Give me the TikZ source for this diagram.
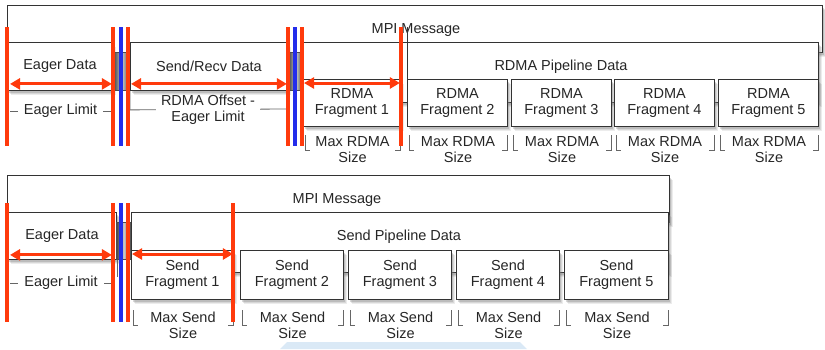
\documentclass[tikz,border=0pt]{standalone}
\usepackage{fontspec}
\setmainfont{Liberation Sans}
\usetikzlibrary{arrows.meta,shadows}
\definecolor{barred}{RGB}{255,58,12}
\definecolor{barblue}{RGB}{35,45,235}
\definecolor{wash}{RGB}{218,233,246}
% bracket under a fragment: left x, right x, top y, name, text
\newcommand{\sizebracket}[5]{%
  \draw[brk] (#1+2,#3) -- (#1+2,#3+15) -- (#1+7,#3+15);
  \draw[brk] (#2-5,#3+15) -- (#2,#3+15) -- (#2,#3);
  \node[lbl, align=center] (#4) at ({(#1+#2)/2+1},#3+15) {#5};}

\begin{document}
\begin{tikzpicture}[x=1pt, y=-1pt,
    font=\fontsize{14.5}{16}\selectfont,
    box/.style={draw=black!80, line width=0.9pt, fill=white, inner sep=0pt,
      anchor=north west, align=center, text=black!85,
      drop shadow={shadow xshift=4pt, shadow yshift=-5pt, opacity=0.15},
      drop shadow={shadow xshift=3pt, shadow yshift=-4pt, opacity=0.2},
      drop shadow={shadow xshift=2pt, shadow yshift=-2.5pt, opacity=0.3}},
    gapbox/.style={draw=black!70, inner sep=0pt, anchor=north west,
      left color=black!75, right color=black!75, middle color=black!20},
    lbl/.style={inner sep=0pt, text=black!85},
    brk/.style={draw=black!60, line width=0.8pt},
    redbar/.style={draw=barred, line width=3.2pt},
    bluebar/.style={draw=barblue, line width=3.2pt},
    redarrow/.style={draw=barred, line width=3pt,
      {Triangle[length=10pt,width=11pt]}-{Triangle[length=10pt,width=11pt]}}]
  \useasboundingbox (0,0) rectangle (825,349);
  \fill[wash] (280,349) -- (287,342) -- (520,342) -- (527,349) -- cycle;

  % RDMA pipeline
  \node[box, minimum width=815pt, minimum height=47pt] (msg1) at (7,5) {};
  \node[lbl] (msg1t) at (416,30) {MPI Message};
  \node[box, minimum width=105pt, minimum height=48pt] (eager1) at (7,42) {Eager Data};
  \node[gapbox, minimum width=17pt, minimum height=38pt] (gap1) at (113,52) {};
  \node[box, minimum width=157pt, minimum height=48pt] (sr1) at (130,42) {Send/Recv Data};
  \node[gapbox, minimum width=15pt, minimum height=38pt] (gap2) at (288,52) {};
  \node[box, minimum width=515pt, minimum height=60pt] (pipe1) at (303,42) {};
  \node[lbl] (pipe1t) at (561,67) {RDMA Pipeline Data};
  \node[box, minimum width=97pt, minimum height=47pt] (rf1) at (303,79) {RDMA\\Fragment 1};
  \node[box, minimum width=100pt, minimum height=47pt] (rf2) at (407,79) {RDMA\\Fragment 2};
  \node[box, minimum width=100pt, minimum height=47pt] (rf3) at (511,79) {RDMA\\Fragment 3};
  \node[box, minimum width=100pt, minimum height=47pt] (rf4) at (614,79) {RDMA\\Fragment 4};
  \node[box, minimum width=100pt, minimum height=47pt] (rf5) at (718,79) {RDMA\\Fragment 5};
  \coordinate (tick1) at (407,27);
  \draw[black!80, line width=0.8pt] (rf2.north west) -- (tick1);

  \draw[brk] (10,111) -- (111,111)
    node[midway, fill=white, inner xsep=6pt, inner ysep=0pt, text=black!85] (el1) {Eager Limit};
  \draw[brk] (sr1.south west) -- ++(0,19) -- (286,109)
    node[midway, fill=white, inner xsep=5pt, inner ysep=0pt, align=center, text=black!85] (ro1) {RDMA Offset -\\Eager Limit};
  \sizebracket{303}{400}{135}{rs1}{Max RDMA\\Size}
  \sizebracket{407}{507}{135}{rs2}{Max RDMA\\Size}
  \sizebracket{511}{611}{135}{rs3}{Max RDMA\\Size}
  \sizebracket{614}{714}{135}{rs4}{Max RDMA\\Size}
  \sizebracket{718}{818}{135}{rs5}{Max RDMA\\Size}

  \draw[redbar] (7,27) -- (7,146);
  \draw[redbar] (113,27) -- (113,146);
  \draw[bluebar] (121,27) -- (121,146);
  \draw[redbar] (128,27) -- (128,146);
  \draw[redbar] (288,27) -- (288,146);
  \draw[bluebar] (295,27) -- (295,146);
  \draw[redbar] (302,27) -- (302,146);
  \draw[redbar] (401,27) -- (401,146);
  \draw[redarrow] ([shift={(3,-7)}]eager1.south west) -- ([shift={(-1,-7)}]eager1.south east);
  \draw[redarrow] ([shift={(1,-7)}]sr1.south west) -- ([shift={(-1,-7)}]sr1.south east);
  \draw[redarrow] ([shift={(1,4)}]rf1.north west) -- ([shift={(-1,4)}]rf1.north east);

  % send pipeline
  \node[box, minimum width=662pt, minimum height=47pt] (msg2) at (7,175) {};
  \node[lbl] (msg2t) at (337,200) {MPI Message};
  \node[box, minimum width=109pt, minimum height=47pt] (eager2) at (7,212) {Eager Data};
  \node[gapbox, minimum width=15pt, minimum height=37pt] (gap3) at (116,222) {};
  \node[box, minimum width=537pt, minimum height=60pt] (pipe2) at (131,212) {};
  \node[lbl] (pipe2t) at (399,237) {Send Pipeline Data};
  \node[box, minimum width=102pt, minimum height=49pt] (sf1) at (131,250) {Send\\Fragment 1};
  \node[box, minimum width=103pt, minimum height=49pt] (sf2) at (240,250) {Send\\Fragment 2};
  \node[box, minimum width=103pt, minimum height=49pt] (sf3) at (348,250) {Send\\Fragment 3};
  \node[box, minimum width=103pt, minimum height=49pt] (sf4) at (456,250) {Send\\Fragment 4};
  \node[box, minimum width=104pt, minimum height=49pt] (sf5) at (564,250) {Send\\Fragment 5};

  \draw[brk] (10,283) -- (112,283)
    node[midway, fill=white, inner xsep=6pt, inner ysep=0pt, text=black!85] (el2) {Eager Limit};
  \draw[brk] (eager2.south east) -- ++(0,17);
  \sizebracket{131}{233}{310}{ss1}{Max Send\\Size}
  \sizebracket{240}{343}{310}{ss2}{Max Send\\Size}
  \sizebracket{348}{451}{310}{ss3}{Max Send\\Size}
  \sizebracket{456}{559}{310}{ss4}{Max Send\\Size}
  \sizebracket{564}{668}{310}{ss5}{Max Send\\Size}

  \draw[redbar] (7,203) -- (7,322);
  \draw[redbar] (113,203) -- (113,322);
  \draw[bluebar] (121,203) -- (121,322);
  \draw[redbar] (128,203) -- (128,322);
  \draw[redbar] (233,203) -- (233,322);
  \draw[redarrow] ([shift={(3,-5)}]eager2.south west) -- ([shift={(-5,-5)}]eager2.south east);
  \draw[redarrow] ([shift={(1,4)}]sf1.north west) -- ([shift={(-1,4)}]sf1.north east);
\end{tikzpicture}
\end{document}
